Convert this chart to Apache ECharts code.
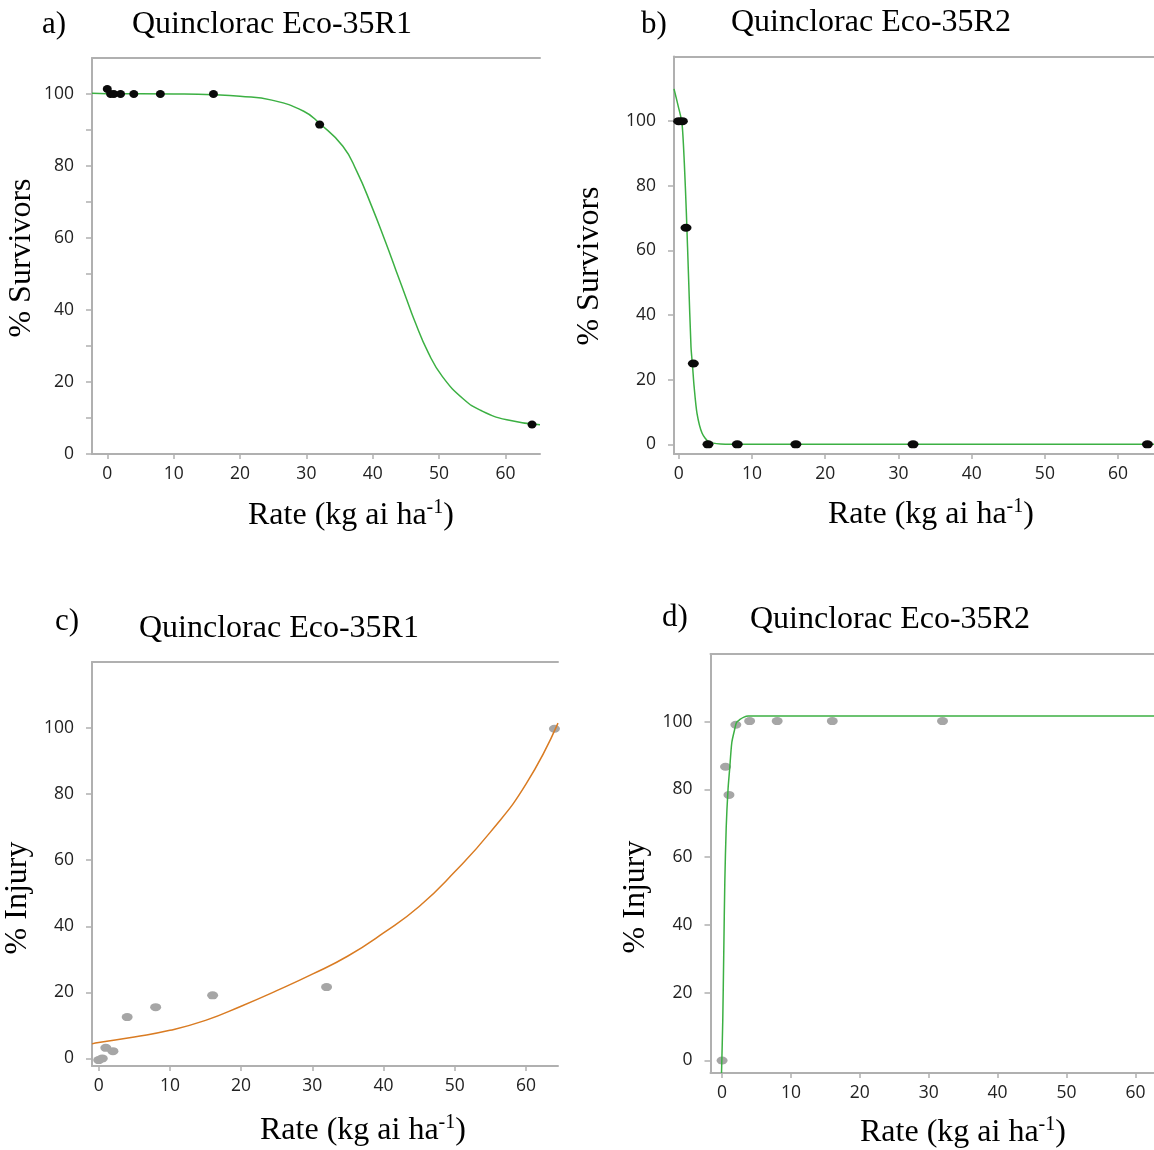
<!DOCTYPE html>
<html>
<head>
<meta charset="utf-8">
<script src="https://cdn.jsdelivr.net/npm/echarts@6/dist/echarts.min.js"></script>
<style>
html,body{margin:0;padding:0;background:#fff;}
#chart{width:1154px;height:1150px;}
</style>
</head>
<body>
<div id="chart"></div>
<script>
// ---- data ----
const rates = [0, 0.5, 1, 2, 4, 8, 16, 32, 64];
const survivorsR1 = [101.4, 100, 100, 100, 100, 100, 100, 91.5, 8.2];
const survivorsR2 = [100, 100, 67, 25, 0, 0, 0, 0, 0];
const injuryR1 = [-0.5, 0, 3.2, 2.2, 12.5, 15.5, 19.1, 21.6, 99.8];
const injuryR2 = [0, 86.7, 78.4, 99.1, 100.2, 100.2, 100.2, 100.2, 100.2];

const fitSurvR1X = [-2.3, 0, 10, 16, 20, 24.8, 29.6, 32, 35.5, 37.6, 39.8, 41.9, 43.5, 45.1, 46.2, 48.4, 50.5, 53.7, 56.4, 60.2, 65.2];
const fitSurvR1Y = [100.2, 100.1, 100, 99.8, 99.4, 98.3, 95.2, 91.8, 85.5, 78.5, 69, 59, 51, 43, 37.5, 28, 21.5, 15.2, 12, 9.5, 8.1];

const fitSurvR2X = [-0.64, -0.05, 0.45, 0.77, 1.05, 1.36, 1.68, 1.9, 2.1, 2.5, 3.2, 4.1, 5.7, 10, 30, 64.9];
const fitSurvR2Y = [110, 104.5, 99.4, 87, 71.5, 50.9, 30.2, 24, 18, 9.6, 3.4, 0.8, 0.1, 0, 0, 0];

const fitInjR1X = [-0.94, 0, 5, 10, 15, 20, 25, 30, 35, 40, 45, 50, 55, 60, 64.5];
const fitInjR1Y = [4.4, 4.8, 6.5, 8.5, 11.5, 15.8, 20.5, 25.5, 31, 38, 46, 56.5, 68.5, 83, 101.5];

const fitInjR2X = [-0.08, 0.1, 0.25, 0.4, 0.6, 0.87, 1.1, 1.41, 1.8, 2.1, 2.55, 3.1, 3.8, 7.9, 62.7];
const fitInjR2Y = [-3.7, 11.8, 32.5, 53, 68.8, 80.2, 86, 93.8, 97.5, 99.8, 100.6, 101.3, 101.7, 101.7, 101.7];

const xTicks = [0, 10, 20, 30, 40, 50, 60];
const yTicksMinor = [0, 10, 20, 30, 40, 50, 60, 70, 80, 90, 100];
const yTicks = [0, 20, 40, 60, 80, 100];

const panelLetters = ['a)', 'b)', 'c)', 'd)'];
const panelTitles = ['Quinclorac Eco-35R1', 'Quinclorac Eco-35R2', 'Quinclorac Eco-35R1', 'Quinclorac Eco-35R2'];
const yNames = ['% Survivors', '% Survivors', '% Injury', '% Injury'];
const xName = 'Rate (kg ai ha';
const xNameSup = '-1';

// ---- layout ----
const grids = [
  {left: 92, top: 58, width: 448, height: 396},
  {left: 674, top: 56.5, width: 480, height: 397.5},
  {left: 92, top: 662, width: 466, height: 404},
  {left: 710.5, top: 654, width: 443.5, height: 419}
];
const xRanges = [[-2.3, 65.2], [-0.64, 64.9], [-0.94, 64.5], [-1.68, 62.7]];
const yRanges = [[0, 110], [-3, 120], [-2.3, 120], [-3.7, 120]];
const yTickSets = [yTicksMinor, yTicks, yTicks, yTicks];
const smoothness = [0.5, 0.25, 0.5, 0.25];

const axisGray = '#b0b0b0';
const tickFont = {fontFamily: 'Open Sans', fontSize: 17.5, color: '#222'};
const serif = 'Liberation Serif';

const xAxes = [], yAxes = [];
grids.forEach((g, i) => {
  xAxes.push({
    type: 'value', gridIndex: i, position: 'bottom',
    min: xRanges[i][0], max: xRanges[i][1],
    axisLine: {show: true, onZero: false, lineStyle: {color: axisGray, width: 2}},
    axisTick: {show: true, length: 5, customValues: xTicks, lineStyle: {color: axisGray, width: 1.5}},
    axisLabel: {show: true, customValues: xTicks, margin: 11, ...tickFont},
    splitLine: {show: false}
  });
  xAxes.push({
    type: 'value', gridIndex: i, position: 'top',
    min: xRanges[i][0], max: xRanges[i][1],
    axisLine: {show: true, onZero: false, lineStyle: {color: axisGray, width: 2}},
    axisTick: {show: false}, axisLabel: {show: false}, splitLine: {show: false}
  });
  yAxes.push({
    type: 'value', gridIndex: i,
    min: yRanges[i][0], max: yRanges[i][1],
    axisLine: {show: true, onZero: false, lineStyle: {color: axisGray, width: 2}},
    axisTick: {show: true, length: 6, customValues: yTickSets[i], lineStyle: {color: axisGray, width: 1.5}},
    axisLabel: {show: true, customValues: yTicks, margin: 18, ...tickFont},
    splitLine: {show: false}
  });
});

function pairs(xs, ys) { return xs.map((x, k) => [x, ys[k]]); }

const green = '#3cb043';
const orange = '#d97b22';
const black = '#0a0a0a';
const gray = '#a6a6a6';

const fits = [[fitSurvR1X, fitSurvR1Y, green], [fitSurvR2X, fitSurvR2Y, green], [fitInjR1X, fitInjR1Y, orange], [fitInjR2X, fitInjR2Y, green]];
const points = [[survivorsR1, black, [9, 8]], [survivorsR2, black, [11, 8]], [injuryR1, gray, [11, 8]], [injuryR2, gray, [11, 8]]];

const series = [];
for (let i = 0; i < 4; i++) {
  series.push({type: 'line', xAxisIndex: 2 * i, yAxisIndex: i, data: pairs(fits[i][0], fits[i][1]),
    smooth: smoothness[i], showSymbol: false, lineStyle: {color: fits[i][2], width: 1.5}, z: i < 2 ? 2 : 3});
  series.push({type: 'scatter', xAxisIndex: 2 * i, yAxisIndex: i, data: pairs(rates, points[i][0]),
    symbol: 'circle', symbolSize: points[i][2], itemStyle: {color: points[i][1], opacity: 1}, z: i < 2 ? 3 : 2});
}

// ---- text placement ----
const letterPos = [[42, 25], [641, 25], [55, 622], [662, 618]];
const titlePos = [[132, 25], [731, 23], [139, 629], [750, 620]];
const yNamePos = [[22, 258], [590, 266], [18, 898], [636, 897]];
const xNamePos = [[248, 516], [828, 515], [260, 1131], [860, 1133]];

const graphic = [];
for (let i = 0; i < 4; i++) {
  graphic.push({type: 'text', x: letterPos[i][0], y: letterPos[i][1],
    style: {text: panelLetters[i], font: '31px "' + serif + '"', fill: '#000', textAlign: 'left', textVerticalAlign: 'middle'}});
  graphic.push({type: 'text', x: titlePos[i][0], y: titlePos[i][1],
    style: {text: panelTitles[i], font: '32px "' + serif + '"', fill: '#000', textAlign: 'left', textVerticalAlign: 'middle'}});
  graphic.push({type: 'text', x: yNamePos[i][0], y: yNamePos[i][1], rotation: Math.PI / 2,
    style: {text: yNames[i], font: '32px "' + serif + '"', fill: '#000', textAlign: 'center', textVerticalAlign: 'middle'}});
  graphic.push({type: 'text', x: xNamePos[i][0], y: xNamePos[i][1],
    style: {
      text: '{a|' + xName + '}{s|' + xNameSup + '}{a|)}',
      textAlign: 'left', textVerticalAlign: 'middle',
      rich: {
        a: {fontFamily: serif, fontSize: 32, fill: '#000', lineHeight: 36},
        s: {fontFamily: serif, fontSize: 20, fill: '#000', verticalAlign: 'top', lineHeight: 36, padding: [0, 0, 14, 0]}
      }
    }});
}

const chart = echarts.init(document.getElementById('chart'), null, {renderer: 'canvas'});
chart.setOption({
  animation: false,
  backgroundColor: '#ffffff',
  grid: grids.map(g => ({...g, containLabel: false})),
  xAxis: xAxes,
  yAxis: yAxes,
  series: series,
  graphic: graphic
});
</script>
</body>
</html>
